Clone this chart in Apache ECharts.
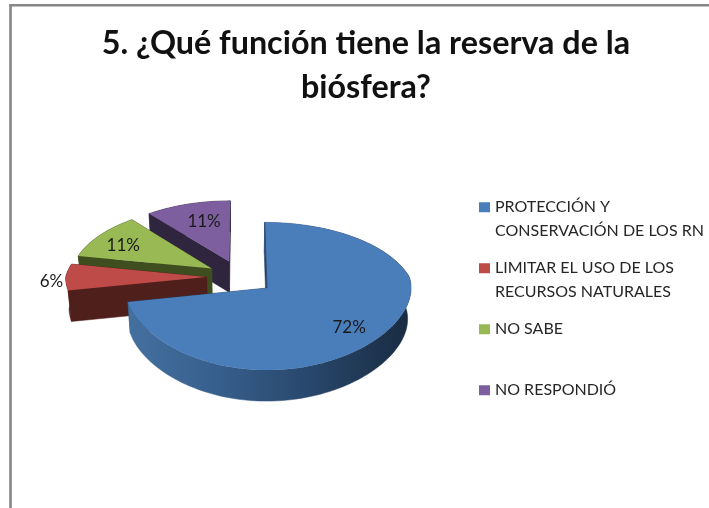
<!DOCTYPE html>
<html>
<head>
<meta charset="utf-8">
<style>html,body{margin:0;padding:0;background:#fff}#c{width:709px;height:508px}</style>
<script src="https://cdn.jsdelivr.net/npm/echarts@6/dist/echarts.min.js"></script>
</head>
<body>
<div id="c"></div>
<script>
const titleText = '5. ¿Qué función tiene la reserva de la\nbiósfera?';
const categories = ['PROTECCIÓN Y\nCONSERVACIÓN DE LOS RN', 'LIMITAR EL USO DE LOS\nRECURSOS NATURALES', 'NO SABE', 'NO RESPONDIÓ'];
const values = [72, 6, 11, 11];
const topColors = ['#4A7EBB', '#BE4B48', '#98B954', '#7D5FA0'];
const wallColors = [null, '#4F1F1C', '#3F4E1E', '#30253F'];
// label distance from the slice tip along its middle direction (in radii), plus small nudge
const labelRadial = [0.74, 1.1, 0.78, 0.66];
const labelNudge = [[0, 3], [0, 5], [0, 3], [3, -1]];

const scene = { cx: 240.4, cy: 277, rxRight: 144, rxLeft: 141, ry: 70.5, k: 0.11, explode: 0.24, depth: 31, shrink: 0.98 };
const total = values.reduce((a, b) => a + b, 0);
const rad = d => d * Math.PI / 180;

function project(u, v) {
  const w = 1 - scene.k * v;
  const wx = v < 0 ? w : 1;
  const rx = u < 0 ? scene.rxLeft : scene.rxRight;
  return [scene.cx + rx * u / wx, scene.cy + scene.ry * v / w];
}
function lower(u, v) {
  const p = project(u, v);
  return [scene.cx + (p[0] - scene.cx) * scene.shrink, p[1] + scene.depth];
}
function sliceRange(i) {
  let s = 0;
  for (let j = 0; j < i; j++) s += values[j];
  return [s / total * 360, (s + values[i]) / total * 360];
}
function renderSlice(i) {
  const [a0, a1] = sliceRange(i);
  const mid = (a0 + a1) / 2;
  const au = scene.explode * Math.sin(rad(mid)), av = -scene.explode * Math.cos(rad(mid));
  const rim = a => [au + Math.sin(rad(a)), av - Math.cos(rad(a))];
  const steps = Math.max(2, Math.ceil((a1 - a0) / 2));
  const angles = [];
  for (let s = 0; s <= steps; s++) angles.push(a0 + (a1 - a0) * s / steps);
  const topRim = angles.map(a => project(...rim(a)));
  const lowRim = angles.map(a => lower(...rim(a)));
  const apexT = project(au, av), apexL = lower(au, av);
  const wallFill = i === 0 ? '#24405F' : wallColors[i];
  const children = [];
  const quad = (pts, fill) => children.push({ type: 'polygon', shape: { points: pts }, style: { fill, stroke: fill, lineWidth: 0.5 } });
  // cut faces
  quad([apexT, topRim[steps], lowRim[steps], apexL], wallFill);
  quad([apexT, topRim[0], lowRim[0], apexL], wallFill);
  // outer wall
  const rimFill = i === 0
    ? new echarts.graphic.LinearGradient(0, 0, 1, 0, [
        { offset: 0, color: '#44709F' }, { offset: 0.3, color: '#38608E' },
        { offset: 0.6, color: '#2A4A70' }, { offset: 1, color: '#192B41' }])
    : wallFill;
  quad(topRim.concat(lowRim.slice().reverse()), rimFill);
  // top face
  children.push({ type: 'polygon', shape: { points: [apexT].concat(topRim) }, style: { fill: topColors[i] } });
  if (i === 0) {
    children.push({ type: 'polyline', shape: { points: [topRim[0], apexT] }, style: { stroke: '#2C4D75', lineWidth: 1, fill: 'none' } });
  }
  // label
  const r = labelRadial[i];
  const lp = project(au + r * Math.sin(rad(mid)), av - r * Math.cos(rad(mid)));
  children.push({
    type: 'text', z2: 100,
    style: {
      x: lp[0] + labelNudge[i][0], y: lp[1] + labelNudge[i][1],
      text: Math.round(values[i] / total * 100) + '%',
      font: '17px Lato', fill: '#1A1A1A', align: 'center', verticalAlign: 'middle'
    }
  });
  return { type: 'group', children };
}

const drawOrder = [3, 2, 1, 0];
const series = drawOrder.map((i, n) => ({
  type: 'custom',
  name: categories[i],
  coordinateSystem: 'none',
  z: 2 + n,
  silent: true,
  animation: false,
  itemStyle: { color: topColors[i] },
  data: [[values[i]]],
  renderItem: () => renderSlice(i)
}));

// Legend rows: the marker sits on the first line of a row, so each row is padded to 3 lines
function legendRow(name) {
  const lines = name.split('\n');
  return lines.length === 2 ? '\n' + lines[0] + '\n' + lines[1] : '\n' + lines[0] + '\n';
}

const chart = echarts.init(document.getElementById('c'), null, { renderer: 'canvas' });
chart.setOption({
  animation: false,
  backgroundColor: '#fff',
  title: {
    text: titleText, left: 361, top: 17, textAlign: 'center',
    textStyle: { fontFamily: 'Lato', fontWeight: 'bold', fontSize: 32.3, lineHeight: 44, color: '#111' }
  },
  legend: {
    orient: 'vertical', left: 479, top: 172, padding: 0,
    itemWidth: 11, itemHeight: 10, itemGap: -9.5, icon: 'rect',
    selectedMode: false,
    data: categories,
    formatter: legendRow,
    textStyle: { fontFamily: 'Lato', fontSize: 16, lineHeight: 23.5, color: '#262626' }
  },
  graphic: [{
    type: 'polyline', silent: true,
    shape: { points: [[10.5, 508], [10.5, 5.2], [709, 5.2]] },
    style: { stroke: '#868686', lineWidth: 2.6, fill: 'none' }
  }],
  series
});
</script>
</body>
</html>
